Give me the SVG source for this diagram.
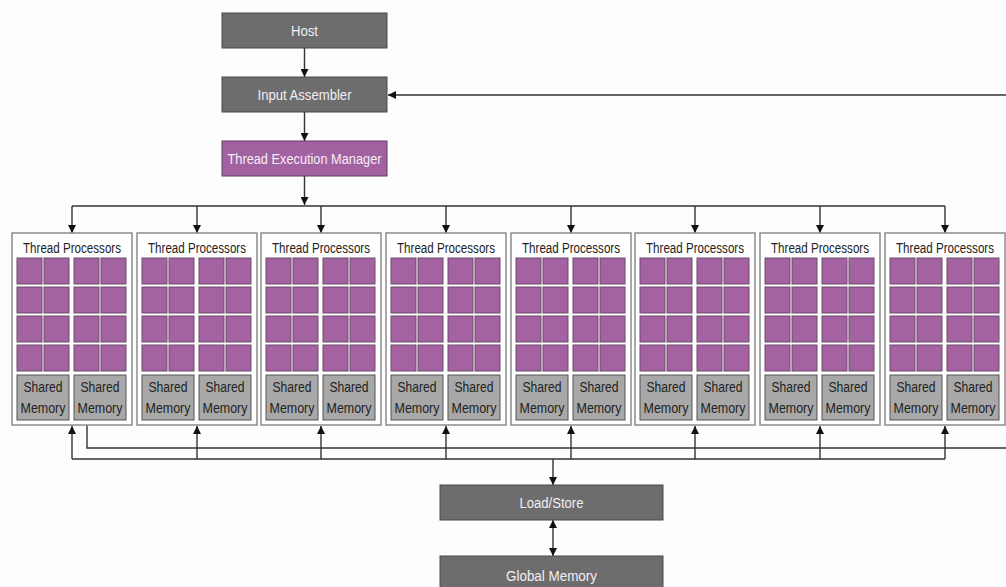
<svg xmlns="http://www.w3.org/2000/svg" xmlns:xlink="http://www.w3.org/1999/xlink" width="1006" height="587" viewBox="0 0 1006 587">
<style>
.box{fill:#6d6d6d;stroke:#4a4a4a;stroke-width:1}
.tem{fill:#a262a2;stroke:#5e3e5e;stroke-width:1}
.wt{fill:#f4eef4;font-family:"Liberation Sans",Arial,sans-serif;font-size:14px;text-anchor:middle}
.blk{fill:#ffffff;stroke:#8c8c8c;stroke-width:1.5}
.cell{fill:#a462a2;stroke:#6a4a6a;stroke-width:1}
.sm{fill:#a8a8a8;stroke:#555555;stroke-width:1}
.tt{fill:#222;font-family:"Liberation Sans",Arial,sans-serif;font-size:14px;text-anchor:middle}
.st{fill:#222;font-family:"Liberation Sans",Arial,sans-serif;font-size:14px;text-anchor:middle}
.ln{fill:none;stroke:#333;stroke-width:1.4}
</style>
<defs>
<marker id="ah" viewBox="0 0 10 10" refX="10" refY="5" markerWidth="8" markerHeight="8" markerUnits="userSpaceOnUse" orient="auto-start-reverse">
<path d="M0,0 L10,5 L0,10 z" fill="#111"/>
</marker>
<g id="grid">
<rect class="cell" x="5" y="25" width="25" height="26"/><rect class="cell" x="32" y="25" width="25" height="26"/><rect class="cell" x="62" y="25" width="25" height="26"/><rect class="cell" x="89" y="25" width="25" height="26"/>
<rect class="cell" x="5" y="54" width="25" height="26"/><rect class="cell" x="32" y="54" width="25" height="26"/><rect class="cell" x="62" y="54" width="25" height="26"/><rect class="cell" x="89" y="54" width="25" height="26"/>
<rect class="cell" x="5" y="83" width="25" height="26"/><rect class="cell" x="32" y="83" width="25" height="26"/><rect class="cell" x="62" y="83" width="25" height="26"/><rect class="cell" x="89" y="83" width="25" height="26"/>
<rect class="cell" x="5" y="112" width="25" height="26"/><rect class="cell" x="32" y="112" width="25" height="26"/><rect class="cell" x="62" y="112" width="25" height="26"/><rect class="cell" x="89" y="112" width="25" height="26"/>
<rect class="sm" x="5" y="142" width="52" height="45"/><rect class="sm" x="62" y="142" width="52" height="45"/>
</g>
</defs>
<rect x="0" y="0" width="1006" height="587" fill="#fdfdfd"/>

<g id="connectors">
<line class="ln" x1="304.5" y1="48" x2="304.5" y2="77" marker-end="url(#ah)"/>
<line class="ln" x1="304.5" y1="112" x2="304.5" y2="141" marker-end="url(#ah)"/>
<line class="ln" x1="304.5" y1="176" x2="304.5" y2="205" marker-end="url(#ah)"/>
<line class="ln" x1="1006" y1="95" x2="388" y2="95" marker-end="url(#ah)"/>
<line class="ln" x1="72" y1="206" x2="945" y2="206"/>
<line class="ln" x1="72" y1="206" x2="72" y2="233" marker-end="url(#ah)"/>
<line class="ln" x1="197" y1="206" x2="197" y2="233" marker-end="url(#ah)"/>
<line class="ln" x1="321" y1="206" x2="321" y2="233" marker-end="url(#ah)"/>
<line class="ln" x1="446" y1="206" x2="446" y2="233" marker-end="url(#ah)"/>
<line class="ln" x1="571" y1="206" x2="571" y2="233" marker-end="url(#ah)"/>
<line class="ln" x1="695" y1="206" x2="695" y2="233" marker-end="url(#ah)"/>
<line class="ln" x1="820" y1="206" x2="820" y2="233" marker-end="url(#ah)"/>
<line class="ln" x1="945" y1="206" x2="945" y2="233" marker-end="url(#ah)"/>
<polyline class="ln" points="87,425 87,448 1006,448"/>
<line class="ln" x1="72" y1="459" x2="945" y2="459"/>
<line class="ln" x1="72" y1="459" x2="72" y2="426" marker-end="url(#ah)"/>
<line class="ln" x1="197" y1="459" x2="197" y2="426" marker-end="url(#ah)"/>
<line class="ln" x1="321" y1="459" x2="321" y2="426" marker-end="url(#ah)"/>
<line class="ln" x1="446" y1="459" x2="446" y2="426" marker-end="url(#ah)"/>
<line class="ln" x1="571" y1="459" x2="571" y2="426" marker-end="url(#ah)"/>
<line class="ln" x1="695" y1="459" x2="695" y2="426" marker-end="url(#ah)"/>
<line class="ln" x1="820" y1="459" x2="820" y2="426" marker-end="url(#ah)"/>
<line class="ln" x1="945" y1="459" x2="945" y2="426" marker-end="url(#ah)"/>
<line class="ln" x1="553" y1="459" x2="553" y2="485" marker-end="url(#ah)"/>
<line class="ln" x1="553" y1="520" x2="553" y2="556" marker-start="url(#ah)" marker-end="url(#ah)"/>
</g>

<g id="host"><rect class="box" x="222" y="13" width="165" height="35"/><text class="wt" x="304.5" y="35.5" textLength="27" lengthAdjust="spacingAndGlyphs">Host</text></g>
<g id="input-assembler"><rect class="box" x="222" y="77" width="165" height="35"/><text class="wt" x="304.5" y="99.5" textLength="94" lengthAdjust="spacingAndGlyphs">Input Assembler</text></g>
<g id="thread-execution-manager"><rect class="tem" x="222" y="141" width="165" height="35"/><text class="wt" x="304.5" y="163.5" textLength="154" lengthAdjust="spacingAndGlyphs">Thread Execution Manager</text></g>

<g id="tp1" transform="translate(12,233)"><rect class="blk" width="120" height="192"/><use xlink:href="#grid"/><text class="tt" x="60" y="20" textLength="98" lengthAdjust="spacingAndGlyphs">Thread Processors</text><text class="st" x="31" y="159" textLength="39" lengthAdjust="spacingAndGlyphs">Shared</text><text class="st" x="31" y="180" textLength="45" lengthAdjust="spacingAndGlyphs">Memory</text><text class="st" x="88" y="159" textLength="39" lengthAdjust="spacingAndGlyphs">Shared</text><text class="st" x="88" y="180" textLength="45" lengthAdjust="spacingAndGlyphs">Memory</text></g>
<g id="tp2" transform="translate(137,233)"><rect class="blk" width="120" height="192"/><use xlink:href="#grid"/><text class="tt" x="60" y="20" textLength="98" lengthAdjust="spacingAndGlyphs">Thread Processors</text><text class="st" x="31" y="159" textLength="39" lengthAdjust="spacingAndGlyphs">Shared</text><text class="st" x="31" y="180" textLength="45" lengthAdjust="spacingAndGlyphs">Memory</text><text class="st" x="88" y="159" textLength="39" lengthAdjust="spacingAndGlyphs">Shared</text><text class="st" x="88" y="180" textLength="45" lengthAdjust="spacingAndGlyphs">Memory</text></g>
<g id="tp3" transform="translate(261,233)"><rect class="blk" width="120" height="192"/><use xlink:href="#grid"/><text class="tt" x="60" y="20" textLength="98" lengthAdjust="spacingAndGlyphs">Thread Processors</text><text class="st" x="31" y="159" textLength="39" lengthAdjust="spacingAndGlyphs">Shared</text><text class="st" x="31" y="180" textLength="45" lengthAdjust="spacingAndGlyphs">Memory</text><text class="st" x="88" y="159" textLength="39" lengthAdjust="spacingAndGlyphs">Shared</text><text class="st" x="88" y="180" textLength="45" lengthAdjust="spacingAndGlyphs">Memory</text></g>
<g id="tp4" transform="translate(386,233)"><rect class="blk" width="120" height="192"/><use xlink:href="#grid"/><text class="tt" x="60" y="20" textLength="98" lengthAdjust="spacingAndGlyphs">Thread Processors</text><text class="st" x="31" y="159" textLength="39" lengthAdjust="spacingAndGlyphs">Shared</text><text class="st" x="31" y="180" textLength="45" lengthAdjust="spacingAndGlyphs">Memory</text><text class="st" x="88" y="159" textLength="39" lengthAdjust="spacingAndGlyphs">Shared</text><text class="st" x="88" y="180" textLength="45" lengthAdjust="spacingAndGlyphs">Memory</text></g>
<g id="tp5" transform="translate(511,233)"><rect class="blk" width="120" height="192"/><use xlink:href="#grid"/><text class="tt" x="60" y="20" textLength="98" lengthAdjust="spacingAndGlyphs">Thread Processors</text><text class="st" x="31" y="159" textLength="39" lengthAdjust="spacingAndGlyphs">Shared</text><text class="st" x="31" y="180" textLength="45" lengthAdjust="spacingAndGlyphs">Memory</text><text class="st" x="88" y="159" textLength="39" lengthAdjust="spacingAndGlyphs">Shared</text><text class="st" x="88" y="180" textLength="45" lengthAdjust="spacingAndGlyphs">Memory</text></g>
<g id="tp6" transform="translate(635,233)"><rect class="blk" width="120" height="192"/><use xlink:href="#grid"/><text class="tt" x="60" y="20" textLength="98" lengthAdjust="spacingAndGlyphs">Thread Processors</text><text class="st" x="31" y="159" textLength="39" lengthAdjust="spacingAndGlyphs">Shared</text><text class="st" x="31" y="180" textLength="45" lengthAdjust="spacingAndGlyphs">Memory</text><text class="st" x="88" y="159" textLength="39" lengthAdjust="spacingAndGlyphs">Shared</text><text class="st" x="88" y="180" textLength="45" lengthAdjust="spacingAndGlyphs">Memory</text></g>
<g id="tp7" transform="translate(760,233)"><rect class="blk" width="120" height="192"/><use xlink:href="#grid"/><text class="tt" x="60" y="20" textLength="98" lengthAdjust="spacingAndGlyphs">Thread Processors</text><text class="st" x="31" y="159" textLength="39" lengthAdjust="spacingAndGlyphs">Shared</text><text class="st" x="31" y="180" textLength="45" lengthAdjust="spacingAndGlyphs">Memory</text><text class="st" x="88" y="159" textLength="39" lengthAdjust="spacingAndGlyphs">Shared</text><text class="st" x="88" y="180" textLength="45" lengthAdjust="spacingAndGlyphs">Memory</text></g>
<g id="tp8" transform="translate(885,233)"><rect class="blk" width="120" height="192"/><use xlink:href="#grid"/><text class="tt" x="60" y="20" textLength="98" lengthAdjust="spacingAndGlyphs">Thread Processors</text><text class="st" x="31" y="159" textLength="39" lengthAdjust="spacingAndGlyphs">Shared</text><text class="st" x="31" y="180" textLength="45" lengthAdjust="spacingAndGlyphs">Memory</text><text class="st" x="88" y="159" textLength="39" lengthAdjust="spacingAndGlyphs">Shared</text><text class="st" x="88" y="180" textLength="45" lengthAdjust="spacingAndGlyphs">Memory</text></g>

<g id="load-store"><rect class="box" x="440" y="485" width="223" height="35"/><text class="wt" x="551.5" y="507.5" textLength="64" lengthAdjust="spacingAndGlyphs">Load/Store</text></g>
<g id="global-memory"><rect class="box" x="440" y="556" width="223" height="36"/><text class="wt" x="551.5" y="581" textLength="91" lengthAdjust="spacingAndGlyphs">Global Memory</text></g>
</svg>
